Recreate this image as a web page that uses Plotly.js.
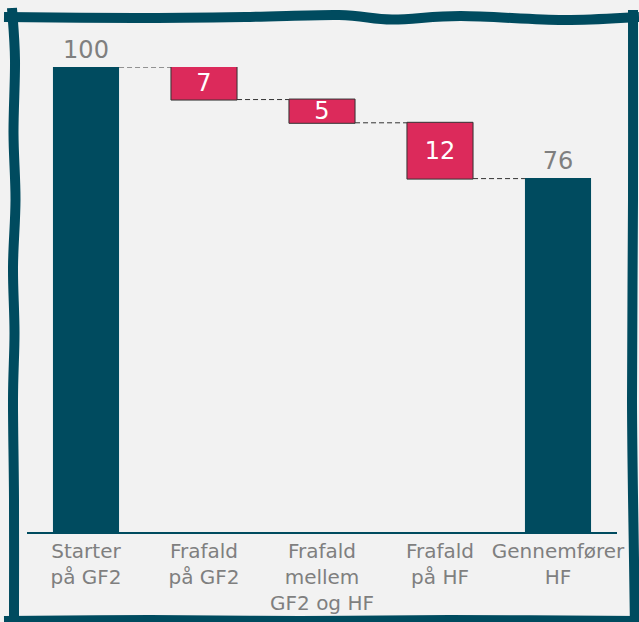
<!DOCTYPE html>
<html>
<head>
<meta charset="utf-8">
<script src="https://cdn.plot.ly/plotly-3.0.1.min.js"></script>
<style>html,body{margin:0;padding:0;background:#f2f2f2;}</style>
</head>
<body>
<div id="chart" style="width:639px;height:622px;"></div>
<script>
// ---- data ----
var categories = ['Starter<br>på GF2', 'Frafald<br>på GF2', 'Frafald<br>mellem<br>GF2 og HF', 'Frafald<br>på HF', 'Gennemfører<br>HF'];
var values = [100, -7, -5, -12, 76];
var measures = ['absolute', 'relative', 'relative', 'relative', 'total'];
var valueLabels = ['100', '7', '5', '12', '76'];
var labelPositions = ['outside', 'inside', 'inside', 'inside', 'outside'];

// ---- styling ----
var TEAL = '#004b5f', RED = '#dc2a5b', GRAY = '#7f7f7f', BG = '#f2f2f2';
var W = 639, H = 622;
var FONT = 'DejaVu Sans, Verdana, sans-serif';

// hand-drawn frame (decoration, pixel coordinates)
var frameTop = [[4,17],[135,18],[245,17],[339,15],[392,19.5],[461,16],[563,20],[639,17]];
var frameRight = [[633,10],[633,200],[632,400],[634,560],[635,630]];
var frameBottom = [[639,621],[450,620],[300,621],[150,620],[4,621]];
var frameLeft = [[14,630],[14,500],[13,400],[14.5,333],[13,267],[15.5,200],[13.5,133],[15,60],[12,8]];

function px(p){ return [(p[0]/W), (1 - p[1]/H)]; }
function smoothPath(pts){
  var P = pts.map(px);
  var d = 'M ' + P[0][0] + ',' + P[0][1];
  for (var i = 0; i < P.length - 1; i++) {
    var p0 = P[i-1] || P[i], p1 = P[i], p2 = P[i+1], p3 = P[i+2] || P[i+1];
    var c1 = [p1[0] + (p2[0]-p0[0])/6, p1[1] + (p2[1]-p0[1])/6];
    var c2 = [p2[0] - (p3[0]-p1[0])/6, p2[1] - (p3[1]-p1[1])/6];
    d += ' C ' + c1[0] + ',' + c1[1] + ' ' + c2[0] + ',' + c2[1] + ' ' + p2[0] + ',' + p2[1];
  }
  return d;
}
var shapes = [frameTop, frameRight, frameBottom, frameLeft].map(function(pts){
  return {type:'path', xref:'paper', yref:'paper', path: smoothPath(pts),
          line:{color:TEAL, width:10}, layer:'above'};
});

var trace = {
  type: 'waterfall',
  x: categories,
  y: values,
  measure: measures,
  text: valueLabels,
  textposition: labelPositions,
  texttemplate: '%{text}',
  textangle: 0,
  insidetextanchor: 'middle',
  constraintext: 'none',
  cliponaxis: false,
  insidetextfont: {color: '#ffffff', size: 24, family: FONT},
  outsidetextfont: {color: GRAY, size: 24, family: FONT},
  textfont: {size: 24, family: FONT},
  decreasing: {marker: {color: RED, line: {color: '#333333', width: 1}}},
  increasing: {marker: {color: RED, line: {color: '#333333', width: 1}}},
  totals: {marker: {color: TEAL, line: {color: TEAL, width: 0}}},
  connector: {mode: 'between', line: {color: '#333333', width: 1, dash: '5px,3px'}},
  hoverinfo: 'skip'
};

var layout = {
  width: W, height: H, autosize: false,
  margin: {l: 0, r: 0, t: 0, b: 0},
  paper_bgcolor: BG, plot_bgcolor: BG,
  showlegend: false,
  waterfallgap: 0.44,
  font: {family: FONT, color: GRAY},
  xaxis: {
    domain: [27/W, 617/W],
    range: [-0.5, 4.5],
    showline: true, linecolor: TEAL, linewidth: 2,
    ticks: '', showgrid: false, zeroline: false,
    tickfont: {size: 20, color: GRAY, family: FONT},
    fixedrange: true
  },
  yaxis: {
    domain: [1 - 532/H, 1 - 67/H],
    range: [0, 100],
    visible: false, showgrid: false, zeroline: false,
    fixedrange: true
  },
  shapes: shapes
};

Plotly.newPlot('chart', [trace], layout, {displayModeBar: false, staticPlot: true});
</script>
</body>
</html>
